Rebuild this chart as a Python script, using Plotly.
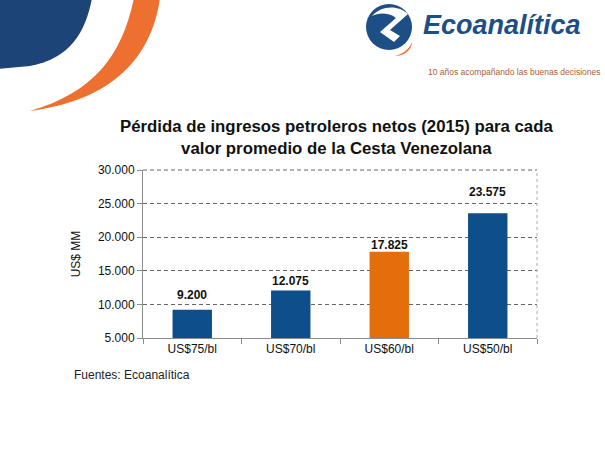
import plotly.graph_objects as go

categories = ["US$75/bl", "US$70/bl", "US$60/bl", "US$50/bl"]
values = [9200, 12075, 17825, 23575]
value_labels = ["9.200", "12.075", "17.825", "23.575"]
bar_colors = ["#0E4F8B", "#0E4F8B", "#E56E0C", "#0E4F8B"]
y_ticks = [5000, 10000, 15000, 20000, 25000, 30000]
y_tick_labels = ["5.000", "10.000", "15.000", "20.000", "25.000", "30.000"]

# label offsets above bar tops (pixels, layout styling)
label_shift = [6, 0, -2, 12]

W, H = 605, 455
L, R, T, B = 143, 68, 170, 117
PW, PH = W - L - R, H - T - B


def px(x):
    return (x - L) / PW


def py(y):
    return 1 - (y - T) / PH


def path(cmds):
    out = []
    for c in cmds:
        if isinstance(c, str):
            out.append(c)
        else:
            out.append(f"{px(c[0]):.5f},{py(c[1]):.5f}")
    return " ".join(out)


FONT = "Liberation Sans, Arial"

fig = go.Figure()
fig.add_trace(go.Bar(
    x=categories, y=values, marker=dict(color=bar_colors, line=dict(width=0)),
    width=0.4, hoverinfo="x+y",
))

shapes = []
# decorative swooshes top-left
shapes.append(dict(type="path", xref="paper", yref="paper", layer="above",
    path=path(["M", (-2, -2), "L", (92, -2), "C", (86, 30), (72, 58), (30, 66), "L", (-2, 69), "Z"]),
    fillcolor="#1D4477", line=dict(width=0)))
shapes.append(dict(type="path", xref="paper", yref="paper", layer="above",
    path=path(["M", (134, -2), "L", (160, -2), "C", (152, 55), (115, 100), (30, 111),
               "C", (95, 92), (122, 55), (134, -2), "Z"]),
    fillcolor="#EE7030", line=dict(width=0)))
# logo icon
shapes.append(dict(type="circle", xref="paper", yref="paper", layer="above",
    x0=px(366), x1=px(412), y0=py(4), y1=py(50),
    fillcolor="#1D4F86", line=dict(width=0)))
shapes.append(dict(type="path", xref="paper", yref="paper", layer="above",
    path=path(["M", (372, 16), "C", (380, 6), (398, 4), (408, 14), "L", (390, 30), "L", (400, 36),
               "L", (394, 42), "L", (380, 32), "L", (396, 18), "C", (388, 12), (378, 13), (372, 16), "Z"]),
    fillcolor="white", line=dict(width=0)))
shapes.append(dict(type="path", xref="paper", yref="paper", layer="above",
    path=path(["M", (395, 56), "C", (404, 54), (410, 48), (412, 42), "C", (412, 50), (404, 56), (395, 56), "Z"]),
    fillcolor="#EE7030", line=dict(width=0)))
# plot area right border and top gridline
shapes.append(dict(type="line", xref="paper", yref="paper", x0=1, x1=1, y0=0, y1=1,
    line=dict(color="#AAAAAA", width=1, dash="dot")))
shapes.append(dict(type="line", xref="paper", yref="paper", x0=0, x1=1, y0=1, y1=1,
    line=dict(color="#666666", width=1, dash="4px,3px")))

annotations = [
    dict(text="<b><i>Ecoanalítica</i></b>", x=px(421), y=py(25), xref="paper", yref="paper",
         xanchor="left", yanchor="middle", showarrow=False,
         font=dict(family=FONT, size=27, color="#1D4F86")),
    dict(text="10 años acompañando las buenas decisiones", x=px(603), y=py(72), xref="paper", yref="paper",
         xanchor="right", yanchor="middle", showarrow=False,
         font=dict(family=FONT, size=8.5, color="#B0602E")),
    dict(text="<b>Pérdida de ingresos petroleros netos (2015) para cada<br>valor promedio de la Cesta Venezolana</b>",
         x=px(336), y=py(137), xref="paper", yref="paper", xanchor="center", yanchor="middle",
         showarrow=False, align="center",
         font=dict(family=FONT, size=16.8, color="#111111")),
    dict(text="Fuentes: Ecoanalítica", x=px(72), y=py(375), xref="paper", yref="paper",
         xanchor="left", yanchor="middle", showarrow=False,
         font=dict(family=FONT, size=12, color="#222222")),
]
for cat, val, lab, sh in zip(categories, values, value_labels, label_shift):
    annotations.append(dict(
        text=f"<b>{lab}</b>", x=cat, y=val, xref="x", yref="y",
        xanchor="center", yanchor="bottom", yshift=sh, showarrow=False,
        font=dict(family=FONT, size=12, color="#111111"),
    ))

fig.update_layout(
    width=W, height=H, margin=dict(l=L, r=R, t=T, b=B),
    paper_bgcolor="white", plot_bgcolor="white",
    separators=",.", showlegend=False, bargap=0.6,
    shapes=shapes, annotations=annotations,
    font=dict(family=FONT, size=12, color="#111111"),
)
fig.update_xaxes(
    showline=True, linecolor="#8C8C8C", linewidth=1, ticks="outside", tickson="boundaries",
    ticklen=5, tickcolor="#8C8C8C", showgrid=False,
    tickfont=dict(family=FONT, size=12, color="#111111"),
)
fig.update_yaxes(
    range=[5000, 30000], tickvals=y_ticks, ticktext=y_tick_labels,
    showline=True, linecolor="#8C8C8C", linewidth=1, ticks="outside", ticklen=5, tickcolor="#8C8C8C",
    showgrid=True, gridcolor="#666666", griddash="4px,3px", gridwidth=1, zeroline=False,
    title=dict(text="US$ MM", standoff=14, font=dict(family=FONT, size=12, color="#111111")),
    tickfont=dict(family=FONT, size=12, color="#111111"),
)

fig.write_html("out.html", config={"displayModeBar": False},
               post_script="document.body.style.margin='0';")
